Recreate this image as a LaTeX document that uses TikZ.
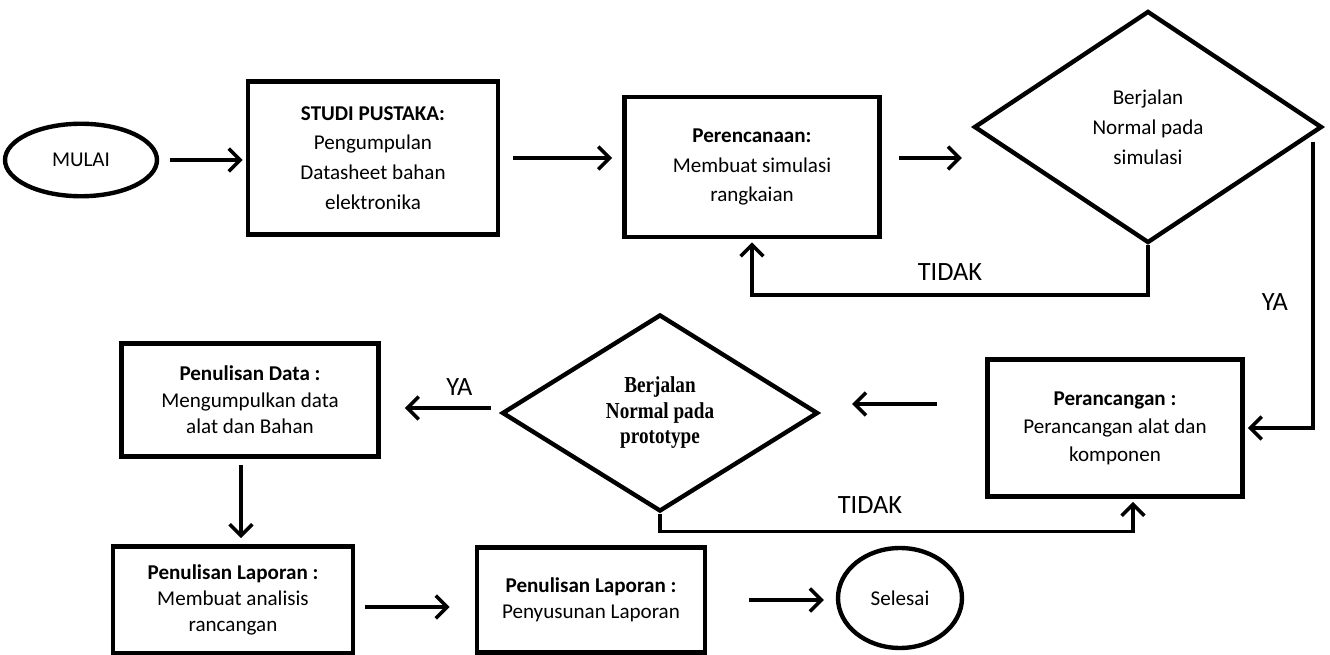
\documentclass[tikz,border=0pt]{standalone}
\usepackage{fontspec}
\setmainfont{Carlito}
\newfontfamily\timesfont[FakeStretch=0.84]{Liberation Serif}
\usepackage{tikz}
\usetikzlibrary{arrows.meta, positioning, shapes.geometric}

\begin{document}
\begin{tikzpicture}[x=0.02cm, y=-0.02cm,
  procbox/.style={draw, line width=2.7pt, align=center, inner sep=2pt,
    font=\fontsize{12}{15}\selectfont},
  termnode/.style={draw, ellipse, line width=2.5pt, inner sep=0pt,
    font=\fontsize{12}{14}\selectfont},
  decnode/.style={draw, diamond, line width=2.5pt, align=center, inner sep=0pt},
  flow/.style={line width=2pt, -{Straight Barb[length=6.5pt, width=13pt, line width=2pt]}},
  lbl/.style={font=\fontsize{15}{17}\selectfont}]
\useasboundingbox (0,0) rectangle (1330,655);

\node[termnode, minimum width=3.04cm, minimum height=1.45cm] (mulai) at (81,160) {MULAI};
\node[procbox, minimum width=5.0cm, minimum height=3.06cm,
  font=\fontsize{12}{17}\selectfont] (studi) at (373,158)
  {\textbf{STUDI PUSTAKA:}\\Pengumpulan\\Datasheet bahan\\elektronika};
\node[procbox, minimum width=5.1cm, minimum height=2.8cm,
  font=\fontsize{12}{17}\selectfont] (renc) at (752,167)
  {\textbf{Perencanaan:}\\Membuat simulasi\\rangkaian};
\node[decnode, minimum width=6.96cm, minimum height=4.64cm,
  font=\fontsize{12}{17}\selectfont] (dec1) at (1148,127)
  {Berjalan\\Normal pada\\simulasi};
\node[procbox, minimum width=5.1cm, minimum height=2.74cm,
  font=\fontsize{12}{16}\selectfont] (peranc) at (1115,428)
  {\textbf{Perancangan :}\\Perancangan alat dan\\komponen};
\node[decnode, minimum width=6.32cm, minimum height=3.94cm,
  font=\timesfont\bfseries\fontsize{13}{14.5}\selectfont] (dec2) at (660,413)
  {Berjalan\\Normal pada\\prototype};
\node[procbox, minimum width=5.14cm, minimum height=2.26cm] (pdata) at (250,400)
  {\textbf{Penulisan Data :}\\Mengumpulkan data\\alat dan Bahan};
\node[procbox, minimum width=4.8cm, minimum height=2.14cm] (plap1) at (233,600)
  {\textbf{Penulisan Laporan :}\\Membuat analisis\\rancangan};
\node[procbox, minimum width=4.56cm, minimum height=2.1cm] (plap2) at (591,600)
  {\textbf{Penulisan Laporan :}\\Penyusunan Laporan};
\node[termnode, minimum width=2.48cm, minimum height=2.0cm] (selesai) at (900,598) {Selesai};
\coordinate (yastart) at (1313,142);

\draw[flow, shorten <=0.22cm, shorten >=0.06cm] (mulai.east) -- (mulai.east -| studi.west);
\draw[flow, shorten <=0.26cm, shorten >=0.2cm] (studi.east) -- (studi.east -| renc.west);
\draw[flow, shorten <=0.34cm, shorten >=0.2cm] ([yshift=0.18cm]renc.east) -- ([yshift=0.18cm]renc.east -| dec1.west);
\draw[flow, shorten >=0.06cm] (dec1.south) -- ++(0,50) -| node[lbl, pos=0.25, above=0.15cm] {TIDAK} (renc.south);
\draw[flow, shorten >=0.06cm] (yastart) |- node[lbl, pos=0.28, left=0.35cm] {YA} (peranc.east);
\draw[flow, shorten <=0.96cm, shorten >=0.64cm] ([yshift=0.48cm]peranc.west) -- ([yshift=0.48cm]peranc.west -| dec2.east);
\draw[flow, shorten >=0.06cm] (dec2.south) -- ++(0,18) -| ([xshift=0.36cm]peranc.south);
\node[lbl] at (870,505) {TIDAK};
\draw[flow, shorten <=0.18cm, shorten >=0.48cm] ([yshift=0.1cm]dec2.west) -- node[lbl, pos=0.34, above=0.1cm] {YA} ([yshift=0.1cm]dec2.west -| pdata.east);
\draw[flow, shorten <=0.12cm, shorten >=0.12cm] ([xshift=-0.18cm]pdata.south) -- ([xshift=-0.18cm]pdata.south |- plap1.north);
\draw[flow, shorten <=0.2cm, shorten >=0.5cm] ([yshift=-0.14cm]plap1.east) -- ([yshift=-0.14cm]plap1.east -| plap2.west);
\draw[flow, shorten <=0.84cm, shorten >=0.24cm] (plap2.east) -- (plap2.east -| selesai.west);
\end{tikzpicture}
\end{document}
